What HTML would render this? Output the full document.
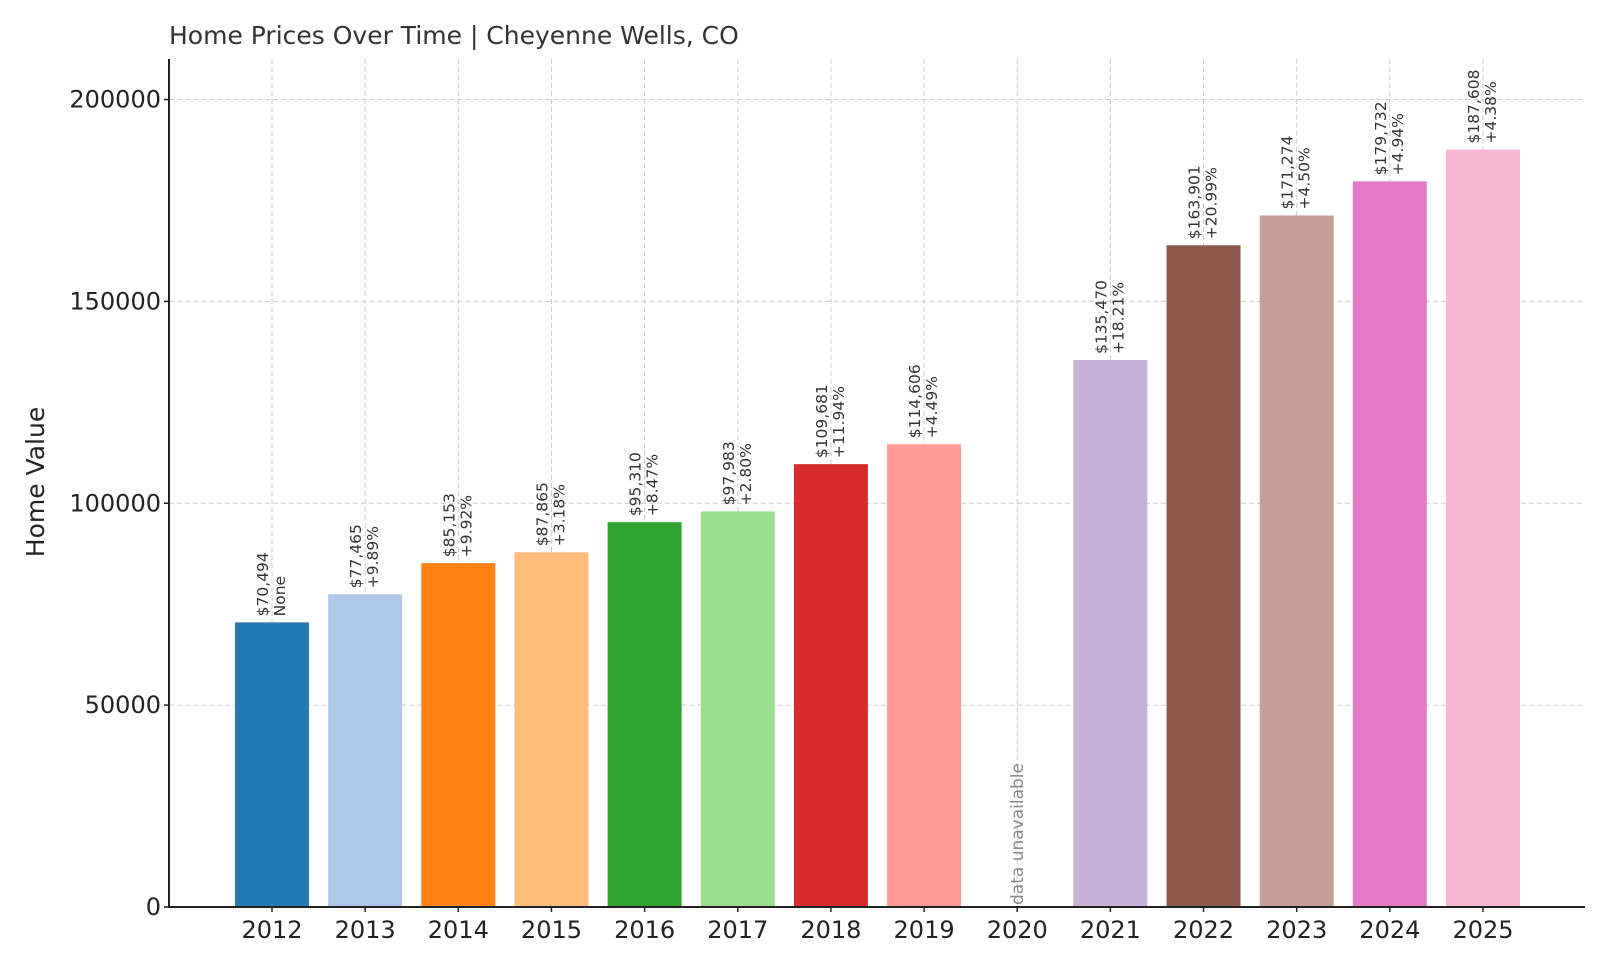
<!DOCTYPE html>
<html><head><meta charset="utf-8"><style>
body{margin:0;background:#fff;font-family:"DejaVu Sans","Liberation Sans",sans-serif}
svg{display:block}
</style></head><body>
<svg id="chart" width="1600" height="960" xmlns="http://www.w3.org/2000/svg">
<text x="169" y="44" font-size="25" fill="#333">Home Prices Over Time | Cheyenne Wells, CO</text>
<text transform="translate(44,482) rotate(-90)" text-anchor="middle" font-size="25" fill="#222">Home Value</text>
<g id="grid"></g><g id="bars"></g><g id="labels"></g><g id="axes"></g>
</svg>
<script>
const years=["2012","2013","2014","2015","2016","2017","2018","2019","2020","2021","2022","2023","2024","2025"];
const values=[70494,77465,85153,87865,95310,97983,109681,114606,null,135470,163901,171274,179732,187608];
const changes=["None","+9.89%","+9.92%","+3.18%","+8.47%","+2.80%","+11.94%","+4.49%","","+18.21%","+20.99%","+4.50%","+4.94%","+4.38%"];
const yTicks=[0,50000,100000,150000,200000];
const colors=["#1f77b4","#aec7e8","#ff7f0e","#ffbb78","#2ca02c","#98df8a","#d62728","#ff9896","#9467bd","#c5b0d5","#8c564b","#c49c94","#e377c2","#f7b6d2"];
const NS="http://www.w3.org/2000/svg";
const L=169,R=1585,T=59,B=907,y0=907,y200=99.5;
const y=v=>y0-(v/200000)*(y0-y200);
const x=i=>272+i*((1483-272)/13);
const BW=74;
function mk(t,a,p){const e=document.createElementNS(NS,t);for(const k in a)e.setAttribute(k,a[k]);p.appendChild(e);return e;}
const grid=document.getElementById('grid'),bars=document.getElementById('bars'),labels=document.getElementById('labels'),axes=document.getElementById('axes');
yTicks.forEach(v=>{
 const g=mk('line',{x1:L,x2:R,y1:y(v),y2:y(v),stroke:'#ccc','stroke-dasharray':'5,3','stroke-width':1},grid);
 
 
 const t=mk('text',{x:L-8,y:y(v)+8,'text-anchor':'end','font-size':24,fill:'#222'},axes);t.textContent=v;
 
 
 mk('line',{x1:L-5,x2:L,y1:y(v),y2:y(v),stroke:'#222','stroke-width':1.5},axes);
});
years.forEach((yr,i)=>{
 const cx=x(i);
 const gl=mk('line',{x1:cx,x2:cx,y1:T,y2:B,stroke:'#ccc','stroke-dasharray':'5,3','stroke-width':1},grid);
 
 
 const v=values[i];
 if(v!=null){
  const r=mk('rect',{x:cx-BW/2,y:y(v),width:BW,height:y0-y(v),fill:colors[i],'fill-opacity':0.98},bars);
  
  
  const ty=y(v)-6;
  const t=mk('text',{transform:`translate(${cx},${ty}) rotate(-90)`,'font-size':15.5,fill:'#333'},labels);
  
  
  const s1=mk('tspan',{x:0,dy:-4},t);s1.textContent='$'+v.toLocaleString('en-US');
  const s2=mk('tspan',{x:0,dy:17},t);s2.textContent=changes[i];
 } else {
  const t=mk('text',{transform:`translate(${cx+6},${y0-2}) rotate(-90)`,'font-size':17,fill:'#888'},labels);
  t.textContent='data unavailable';
  
  
 }
 mk('line',{x1:cx,x2:cx,y1:B,y2:B+5,stroke:'#222','stroke-width':1.5},axes);
 const xl=mk('text',{x:cx,y:B+31,'text-anchor':'middle','font-size':24,fill:'#222'},axes);xl.textContent=yr;
 
 
});
const ya=mk('line',{x1:L,x2:L,y1:T,y2:B+1,stroke:'#222','stroke-width':2},axes);


const xa=mk('line',{x1:L-1,x2:R,y1:B,y2:B,stroke:'#222','stroke-width':2},axes);


</script>
</body></html>
